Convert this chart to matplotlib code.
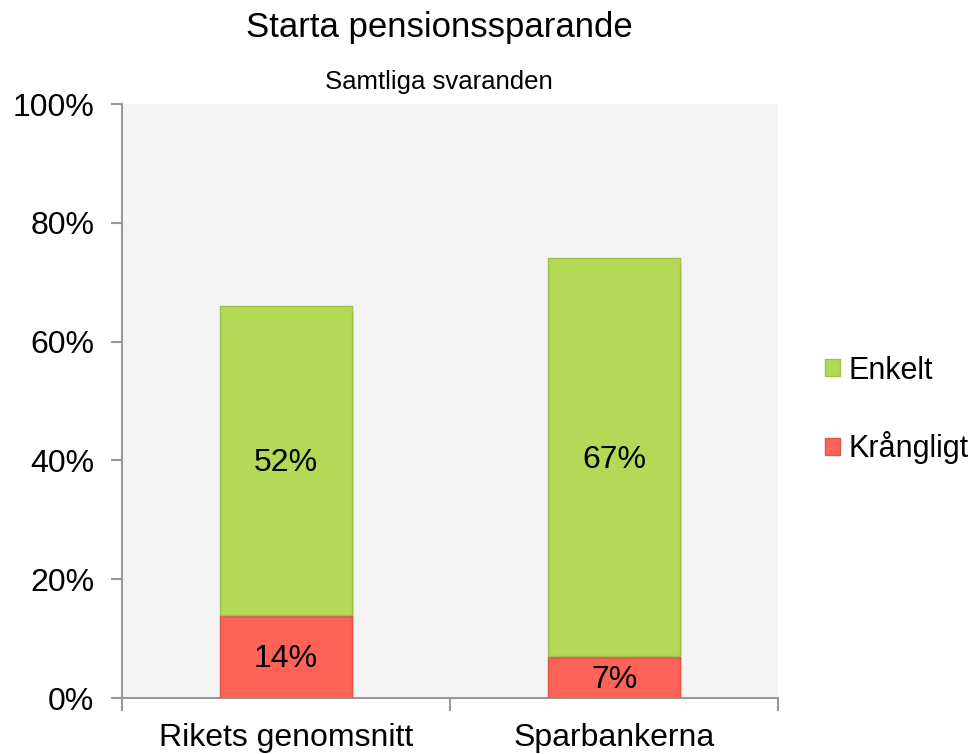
import matplotlib.pyplot as plt
import matplotlib.patheffects as pe
from matplotlib.patches import Patch

plt.rcParams['font.family'] = ['Liberation Sans', 'DejaVu Sans']

categories = ['Rikets genomsnitt', 'Sparbankerna']
krangligt = [14, 7]
enkelt = [52, 67]
yticks = [0, 20, 40, 60, 80, 100]

green = '#b3d957'
red = '#ff6257'

fig = plt.figure(figsize=(9.8, 7.54), dpi=100)
ax = fig.add_axes([122 / 980, 1 - 698 / 754, 656 / 980, 594 / 754])
ax.set_facecolor('#f4f4f4')

x = range(len(categories))
shadow = [pe.SimplePatchShadow(offset=(2, -2), alpha=0.15), pe.Normal()]
ax.bar(x, krangligt, width=0.4, color=red, edgecolor='#e0564c', linewidth=1,
       path_effects=shadow, zorder=3)
ax.bar(x, enkelt, width=0.4, bottom=krangligt, color=green, edgecolor='#9fc24d',
       linewidth=1, path_effects=shadow, zorder=3)

for i in x:
    ax.text(i, krangligt[i] / 2 - 0.5, '%d%%' % krangligt[i], ha='center', va='center', fontsize=23)
    ax.text(i, krangligt[i] + enkelt[i] / 2 - 0.5, '%d%%' % enkelt[i], ha='center', va='center', fontsize=23)

ax.set_xlim(-0.5, 1.5)
ax.set_ylim(0, 100)
ax.set_yticks(yticks)
ax.set_yticklabels(['%d%%' % t for t in yticks], fontsize=23)
ax.set_xticks([-0.5, 0.5, 1.5])
ax.set_xticklabels([])
ax.set_xticks(list(x), minor=True)
ax.set_xticklabels(categories, minor=True, fontsize=23)
ax.tick_params(axis='x', which='minor', length=0, pad=18)
ax.tick_params(axis='x', which='major', length=9, color='#999999', width=1.5)
ax.tick_params(axis='y', length=8, color='#999999', width=1.5, pad=12)

for s in ['top', 'right']:
    ax.spines[s].set_visible(False)
for s in ['left', 'bottom']:
    ax.spines[s].set_color('#999999')
    ax.spines[s].set_linewidth(1.5)

fig.text(439 / 980, 1 - 28 / 754, 'Starta pensionssparande', ha='center', va='center', fontsize=25)
fig.text(439 / 980, 1 - 82 / 754, 'Samtliga svaranden', ha='center', va='center', fontsize=18.5)

handles = [Patch(facecolor=green, edgecolor='#9fc24d'), Patch(facecolor=red, edgecolor='#e0564c')]
fig.legend(handles, ['Enkelt', 'Krångligt'], loc='center left',
           bbox_to_anchor=(797 / 980, 1 - 410 / 754), frameon=False, fontsize=22,
           handlelength=0.5, handleheight=0.5, handletextpad=0.3, labelspacing=1.5)

fig.savefig('out.png', dpi=100)
